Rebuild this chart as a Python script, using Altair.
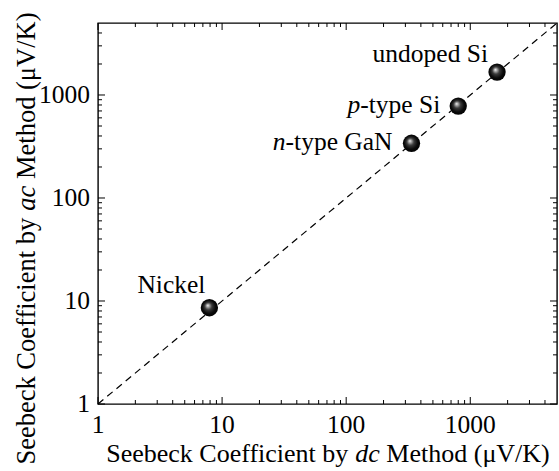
import altair as alt
import pandas as pd

# Measured Seebeck coefficients (µV/K): dc method vs ac method
materials = ["Nickel", "n-type GaN", "p-type Si", "undoped Si"]
seebeck_dc = [7.9, 336, 800, 1644]
seebeck_ac = [8.6, 340, 780, 1670]

# Each label is an optional italic prefix followed by roman text
label_italic = ["", "n", "p", ""]
label_roman = ["Nickel", "-type GaN", "-type Si", "undoped Si"]

axis_domain = [1, 5000]
major_ticks = [1, 10, 100, 1000]
minor_ticks = [m * k for m in (1, 10, 100) for k in range(2, 10)] + [2000, 3000, 4000]

W, H = 459, 381
FONT = "Liberation Serif, Times New Roman, serif"
LABEL_SIZE = 25.5
MAJOR_LEN, MINOR_LEN = 7, 4

# Advance widths (per 1000 em) of the Times-metric serif face
ROMAN_W = {
    " ": 250, "-": 333, "(": 333, ")": 333, "/": 278, "μ": 500,
    "C": 667, "G": 722, "K": 722, "M": 889, "N": 722, "S": 556, "V": 722,
    "a": 444, "b": 500, "c": 444, "d": 500, "e": 444, "f": 333, "h": 500,
    "i": 278, "k": 500, "l": 278, "n": 500, "o": 500, "p": 500, "t": 278,
    "u": 500, "y": 500,
}
ITALIC_W = {"a": 500, "c": 444, "d": 500, "n": 500, "p": 500}


def text_width(s, size, italic=False):
    table = ITALIC_W if italic else ROMAN_W
    return sum(table.get(ch, 500) for ch in s) * size / 1000.0


df = pd.DataFrame({"material": materials, "dc": seebeck_dc, "ac": seebeck_ac,
                   "italic": label_italic, "roman": label_roman})
diag = pd.DataFrame({"v": axis_domain})
majors = pd.DataFrame({"t": major_ticks})
minors = pd.DataFrame({"t": minor_ticks})
one = pd.DataFrame({"k": [0]})

xs = alt.Scale(type="log", domain=axis_domain, nice=False)
ys = alt.Scale(type="log", domain=axis_domain, nice=False)

# Dashed y = x reference line
layers = [
    alt.Chart(diag).mark_line(color="black", strokeDash=[7, 5], strokeWidth=1.2).encode(
        x=alt.X("v:Q", scale=xs, axis=None),
        y=alt.Y("v:Q", scale=ys, axis=None),
    )
]

# Inward-pointing ticks on all four sides of the frame
for table, length in ((majors, MAJOR_LEN), (minors, MINOR_LEN)):
    tx = alt.X("t:Q", scale=xs, axis=None)
    ty = alt.Y("t:Q", scale=ys, axis=None)
    rule = alt.Chart(table).mark_rule(color="black", strokeWidth=1)
    layers += [
        rule.encode(x=tx, y=alt.value(H), y2=alt.value(H - length)),
        rule.encode(x=tx, y=alt.value(0), y2=alt.value(length)),
        rule.encode(y=ty, x=alt.value(0), x2=alt.value(length)),
        rule.encode(y=ty, x=alt.value(W), x2=alt.value(W - length)),
    ]

# Decade tick labels
tick_text = alt.Chart(majors)
layers += [
    tick_text.mark_text(font=FONT, fontSize=LABEL_SIZE, color="black", align="center",
                        baseline="alphabetic").encode(
        x=alt.X("t:Q", scale=xs, axis=None), y=alt.value(H + 29),
        text=alt.Text("t:Q", format="d")),
    tick_text.mark_text(font=FONT, fontSize=LABEL_SIZE, color="black", align="right",
                        baseline="middle").encode(
        y=alt.Y("t:Q", scale=ys, axis=None), x=alt.value(-8),
        text=alt.Text("t:Q", format="d")),
]

# Glossy black sphere markers
sphere = alt.RadialGradient(
    gradient="radial",
    stops=[
        alt.GradientStop(color="#ffffff", offset=0.0),
        alt.GradientStop(color="#b8b8b8", offset=0.12),
        alt.GradientStop(color="#3a3a3a", offset=0.38),
        alt.GradientStop(color="#0a0a0a", offset=0.7),
        alt.GradientStop(color="#000000", offset=1.0),
    ],
    x1=0.4, y1=0.36, r1=0.0, x2=0.5, y2=0.5, r2=0.55,
)

layers.append(
    alt.Chart(df).mark_circle(size=300, fill=sphere, opacity=1, fillOpacity=1,
                              strokeWidth=0).encode(
        x=alt.X("dc:Q", scale=xs, axis=None),
        y=alt.Y("ac:Q", scale=ys, axis=None),
    )
)

# Label placement (dx, dy) of each label's right end relative to its point
label_offsets = {
    "Nickel": (-4, -15),
    "n-type GaN": (-19, 7),
    "p-type Si": (-18, 7),
    "undoped Si": (-9, -10),
}

for mat, ital, rom in zip(materials, label_italic, label_roman):
    dx, dy = label_offsets[mat]
    base = alt.Chart(df).transform_filter(alt.datum.material == mat)
    layers.append(
        base.mark_text(align="right", baseline="alphabetic", font=FONT,
                       fontSize=LABEL_SIZE, color="black", dx=dx, dy=dy).encode(
            x=alt.X("dc:Q", scale=xs, axis=None),
            y=alt.Y("ac:Q", scale=ys, axis=None),
            text="roman:N",
        )
    )
    if ital:
        shift = text_width(rom, LABEL_SIZE)
        layers.append(
            base.mark_text(align="right", baseline="alphabetic", font=FONT,
                           fontSize=LABEL_SIZE, fontStyle="italic", color="black",
                           dx=dx - shift, dy=dy).encode(
                x=alt.X("dc:Q", scale=xs, axis=None),
                y=alt.Y("ac:Q", scale=ys, axis=None),
                text="italic:N",
            )
        )

# Axis titles with italic method names; words are separated by explicit gaps
x_title = [("Seebeck Coefficient by", False), ("dc", True), ("Method (μV/K)", False)]
y_title = [("Seebeck Coefficient by", False), ("ac", True), ("Method (μV/K)", False)]
X_TITLE_SIZE, Y_TITLE_SIZE = 26, 26.5


def piece_starts(parts, size):
    starts, pos = [], 0.0
    for t, it in parts:
        starts.append(pos)
        pos += text_width(t, size, it) + text_width(" ", size)
    return starts, pos - text_width(" ", size)


starts, total = piece_starts(x_title, X_TITLE_SIZE)
x0 = W / 2 - total / 2
for (t, it), s in zip(x_title, starts):
    layers.append(
        alt.Chart(one).mark_text(text=t, align="left", baseline="alphabetic", font=FONT,
                                 fontSize=X_TITLE_SIZE, color="black",
                                 fontStyle="italic" if it else "normal").encode(
            x=alt.value(x0 + s), y=alt.value(H + 58))
    )

starts, total = piece_starts(y_title, Y_TITLE_SIZE)
y0 = 216 + total / 2
for (t, it), s in zip(y_title, starts):
    layers.append(
        alt.Chart(one).mark_text(text=t, align="left", baseline="alphabetic", angle=270,
                                 font=FONT, fontSize=Y_TITLE_SIZE, color="black",
                                 fontStyle="italic" if it else "normal").encode(
            x=alt.value(-63), y=alt.value(y0 - s))
    )

chart = alt.layer(*layers).properties(
    width=W, height=H,
    autosize=alt.AutoSizeParams(type="none"),
    padding={"left": 98, "top": 23, "right": 2, "bottom": 67},
    background="white",
).configure_view(stroke="black", strokeWidth=1.4)

chart.save("out.html", embed_options={"renderer": "svg", "actions": False})
